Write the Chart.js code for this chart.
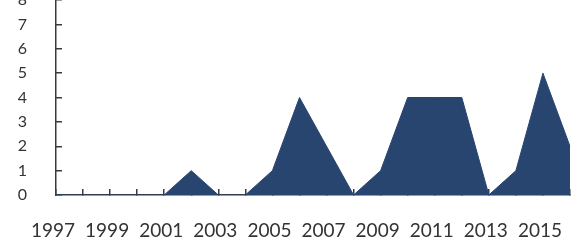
<!DOCTYPE html>
<html lang="en">
  <head>
    <meta charset="UTF-8" />
    <title>Area chart</title>
    <style>
      html, body {
        margin: 0;
        padding: 0;
        background-color: white;
      }
      #wrap {
        width: 574px;
        height: 244px;
      }
    </style>
  </head>
  <body>
    <script src="https://cdn.jsdelivr.net/npm/chart.js@4/dist/chart.umd.min.js"></script>
    <div id="wrap">
      <canvas id="area-chart" width="574" height="244"></canvas>
    </div>
    <script>
      var years = [
        "1997", "1998", "1999", "2000", "2001", "2002", "2003", "2004", "2005", "2006",
        "2007", "2008", "2009", "2010", "2011", "2012", "2013", "2014", "2015", "2016",
      ];
      var counts = [0, 0, 0, 0, 0, 1, 0, 0, 1, 4, 2, 0, 1, 4, 4, 4, 0, 1, 5, 2];
      var yTicks = [0, 1, 2, 3, 4, 5, 6, 7, 8];

      var axisColor = "#3a3a3a";
      var textColor = "#333333";

      var chart = new Chart(document.getElementById("area-chart"), {
        type: "line",
        data: {
          labels: years,
          datasets: [
            {
              data: counts,
              fill: "origin",
              backgroundColor: "#284570",
              borderColor: "#284570",
              borderWidth: 1,
              pointRadius: 0,
              tension: 0,
            },
          ],
        },
        options: {
          responsive: false,
          animation: false,
          layout: { padding: { left: 0, right: 4, top: 0, bottom: 0 } },
          plugins: {
            legend: { display: false },
            tooltip: { enabled: false },
          },
          scales: {
            x: {
              offset: false,
              grid: {
                drawOnChartArea: false,
                tickLength: -6,
                color: axisColor,
                lineWidth: 1.5,
              },
              border: { color: axisColor, width: 1.5 },
              ticks: {
                autoSkip: false,
                maxRotation: 0,
                padding: 30,
                labelOffset: -3,
                color: textColor,
                font: { family: "Lato", size: 19 },
                callback: function (value, index) {
                  return index % 2 === 0 ? years[index] : "";
                },
              },
              afterFit: function (s) {
                s.height = 49;
                s.paddingLeft = 0;
                s.paddingRight = 0;
              },
            },
            y: {
              min: yTicks[0],
              max: yTicks[yTicks.length - 1],
              grid: {
                drawOnChartArea: false,
                tickLength: -6,
                color: axisColor,
                lineWidth: 1.5,
              },
              border: { color: axisColor, width: 1.5 },
              afterBuildTicks: function (s) {
                s.ticks = yTicks.map(function (v) {
                  return { value: v };
                });
              },
              ticks: {
                padding: 35,
                color: textColor,
                font: { family: "Lato", size: 16 },
              },
              afterFit: function (s) {
                s.width = 56;
                s.paddingTop = 0;
                s.paddingBottom = 0;
              },
            },
          },
        },
      });
    </script>
  </body>
</html>
